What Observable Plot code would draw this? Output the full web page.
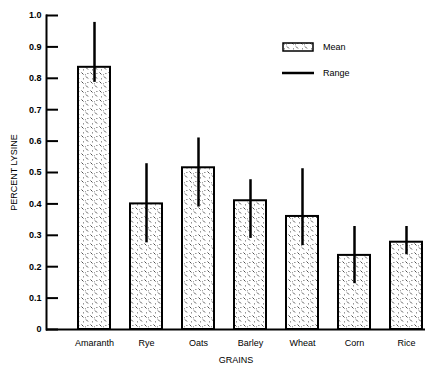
<!DOCTYPE html>
<html>
<head>
<meta charset="utf-8">
<script src="https://cdn.jsdelivr.net/npm/d3@7"></script>
<script src="https://cdn.jsdelivr.net/npm/@observablehq/plot@0.6"></script>
<style>
  html, body { margin: 0; padding: 0; background: #fff; }
  #wrap { position: relative; width: 427px; height: 371px; font-family: "Liberation Sans", Arial, sans-serif; }
  #legend { position: absolute; left: 282px; top: 40px; font-size: 9px; color: #000; }
  #legend .row { display: flex; align-items: center; height: 14px; margin-bottom: 12px; }
  #legend .txt { margin-left: 9px; }
</style>
</head>
<body>
<div id="wrap"></div>
<script>
const grains = ["Amaranth", "Rye", "Oats", "Barley", "Wheat", "Corn", "Rice"];
const means  = [0.835, 0.40, 0.515, 0.41, 0.36, 0.236, 0.278];
const lows   = [0.787, 0.276, 0.39, 0.29, 0.267, 0.146, 0.238];
const highs  = [0.978, 0.528, 0.61, 0.477, 0.512, 0.328, 0.328];
const yTicks = [0, 0.1, 0.2, 0.3, 0.4, 0.5, 0.6, 0.7, 0.8, 0.9, 1.0];

const rows = grains.map((g, i) => ({grain: g, mean: means[i], low: lows[i], high: highs[i]}));

const chart = Plot.plot({
  width: 427,
  height: 371,
  marginLeft: 46,
  marginRight: 2,
  marginTop: 15,
  marginBottom: 42,
  style: {fontFamily: '"Liberation Sans", Arial, sans-serif', fontSize: "9px", color: "#000", background: "#fff"},
  x: {domain: grains, range: [77, 423], paddingInner: 0.387, paddingOuter: 0},
  y: {domain: [0, 1]},
  marks: [
    Plot.barY(rows, {x: "grain", y: "mean", fill: "url(#stipple)", stroke: "#000", strokeWidth: 2}),
    Plot.ruleX(rows, {x: "grain", y1: "low", y2: "high", stroke: "#000", strokeWidth: 2.5}),
    Plot.ruleY([0], {stroke: "#000", strokeWidth: 2}),
    Plot.frame({anchor: "left", stroke: "#000", strokeWidth: 2}),
    Plot.axisY(yTicks, {
      anchor: "left", tickSize: -12, tickPadding: 17, strokeWidth: 2,
      tickFormat: d => d === 0 ? "0" : d.toFixed(1),
      label: null, fontWeight: "bold"
    }),
    Plot.axisY([], {anchor: "left", label: "PERCENT LYSINE", labelAnchor: "center", labelOffset: 36, labelArrow: false, style: {letterSpacing: "1px"}}),
    Plot.axisX({anchor: "bottom", tickSize: 0, tickPadding: 10, label: "GRAINS", labelAnchor: "center", labelOffset: 33, labelArrow: false})
  ]
});

function addPattern(svg) {
  const ns = "http://www.w3.org/2000/svg";
  const defs = document.createElementNS(ns, "defs");
  defs.innerHTML = `
    <pattern id="stipple" patternUnits="userSpaceOnUse" width="9" height="9">
      <rect width="9" height="9" fill="#fff"/>
      <path d="M0.5,0.5 L2.5,2.5 M5,4.5 L7,6.5" stroke="#000" stroke-width="0.7"/>
      <rect x="6.5" y="1" width="0.8" height="0.8" fill="#000"/>
      <rect x="2" y="6.5" width="0.8" height="0.8" fill="#000"/>
      <rect x="4" y="2.5" width="0.7" height="0.7" fill="#000"/>
    </pattern>`;
  svg.insertBefore(defs, svg.firstChild);
}
addPattern(chart);
const wrap = document.getElementById("wrap");
wrap.appendChild(chart);

const legend = document.createElement("div");
legend.id = "legend";
legend.innerHTML = `
  <div class="row"><svg width="32" height="10"><rect x="1" y="1" width="30" height="8" fill="url(#stipple)" stroke="#000" stroke-width="1.5"/></svg><span class="txt">Mean</span></div>
  <div class="row"><svg width="32" height="10"><line x1="0" x2="32" y1="5" y2="5" stroke="#000" stroke-width="2.5"/></svg><span class="txt">Range</span></div>`;
wrap.appendChild(legend);
</script>
</body>
</html>
